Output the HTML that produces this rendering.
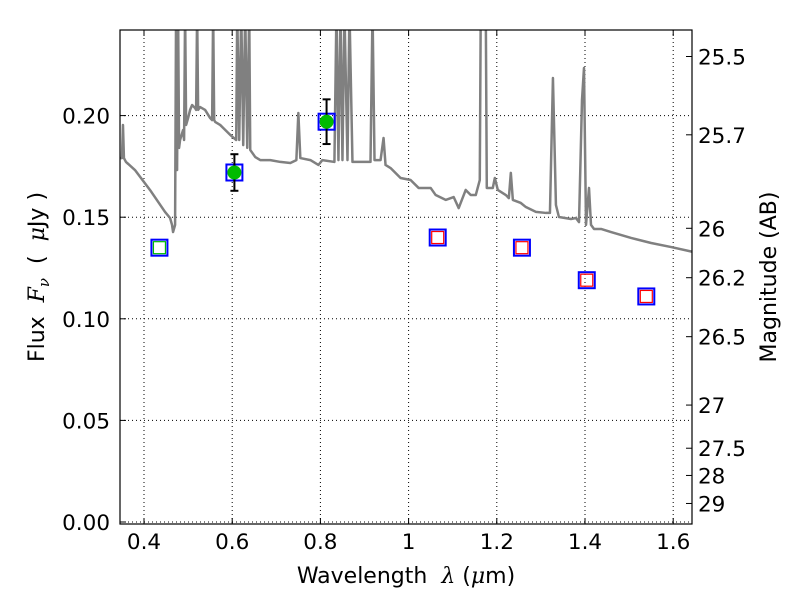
<!DOCTYPE html>
<html><head><meta charset="utf-8"><style>
body{margin:0;background:#fff;}
svg text{font-family:"DejaVu Sans","Liberation Sans",sans-serif;fill:#000;}
</style></head><body>
<svg id="c" width="800" height="600" xmlns="http://www.w3.org/2000/svg"></svg>
<script>
const xTicks=[0.4,0.6,0.8,1.0,1.2,1.4,1.6];
const xTickLabels=["0.4","0.6","0.8","1","1.2","1.4","1.6"];
const yTicks=[0,0.05,0.10,0.15,0.20];
const yTickLabels=["0.00","0.05","0.10","0.15","0.20"];
const magTicks=[25.5,25.7,26,26.2,26.5,27,27.5,28,29];
const specPx=[[120,158],[122,158],[123,125],[124,158],[126,162],[135,170],[150,190],[165,212],[170,218],[172,225],[173,232],[175,225],[176,10],[177,170],[178,10],[179,148],[180,140],[183,130],[184,140],[185,10],[186,125],[188,118],[190,110],[192,105],[195,108],[196,110],[197,10],[198,110],[200,107],[205,110],[210,118],[212,120],[213,10],[214,120],[215,122],[220,125],[230,135],[236,140],[237,10],[239,140],[241,10],[243,145],[245,10],[247,148],[249,10],[250,150],[255,157],[260,160],[270,160],[280,162],[290,163],[296,160],[298,113],[300,158],[310,160],[318,165],[322,160],[334,162],[336,10],[338,160],[340,10],[342,160],[344,10],[347,160],[349,10],[352,162],[356,162],[370,162],[372,10],[374,160],[380,160],[383,138],[385,165],[390,168],[400,178],[410,180],[418,188],[430,188],[435,195],[445,200],[453,197],[458,208],[465,190],[470,195],[475,195],[479,180],[480,10],[485,10],[486,188],[492,188],[494,178],[497,190],[505,195],[508,198],[510,173],[512,200],[520,203],[525,207],[535,212],[545,213],[549,213],[552,78],[555,205],[558,217],[570,219],[575,218],[578,222],[581,100],[583,68],[585,225],[588,188],[590,225],[593,229],[600,229],[610,232],[630,238],[650,243],[670,247],[692,252]];
const specWave=specPx.map(p=>+(0.4+(p[0]-144)/440).toFixed(4));
const specFlux=specPx.map(p=>+((522-p[1])/2032).toFixed(4));
const photWave=[0.435,0.605,0.814,1.066,1.257,1.404,1.539];
const photFlux=[0.135,0.172,0.197,0.140,0.135,0.119,0.111];
const detWave=[0.605,0.814];
const detFlux=[0.172,0.197];
const detErr=[0.009,0.011];
const innerWave=[0.435,1.066,1.257,1.404,1.539];
const innerFlux=[0.135,0.140,0.135,0.119,0.111];
const innerColor=["#00bb00","red","red","red","red"];

const L=120,R=692,T=30,B=524;
const X=v=>144+(v-0.4)*441;
const Y=v=>522-v*2032;
const svg=document.getElementById('c');
const NS="http://www.w3.org/2000/svg";
function mk(t,a,p){const e=document.createElementNS(NS,t);for(const k in a)e.setAttribute(k,a[k]);(p||svg).appendChild(e);return e;}

const defs=mk('defs',{});const cp=mk('clipPath',{id:'clip'},defs);mk('rect',{x:L,y:T,width:R-L,height:B-T},cp);
xTicks.forEach((t,i)=>{
 const g=mk('line',{x1:X(t),x2:X(t),y1:T,y2:B,stroke:'#000','stroke-dasharray':'1,3','stroke-width':1});
 
 mk('line',{x1:X(t),x2:X(t),y1:B,y2:B-6,stroke:'#000'});mk('line',{x1:X(t),x2:X(t),y1:T,y2:T+6,stroke:'#000'});
 const tx=mk('text',{x:X(t),y:B+25,'text-anchor':'middle','font-size':21.5});tx.textContent=xTickLabels[i];
 
});
yTicks.forEach((t,i)=>{
 const g=mk('line',{x1:L,x2:R,y1:Y(t),y2:Y(t),stroke:'#000','stroke-dasharray':'1,3','stroke-width':1});
 
 mk('line',{x1:L,x2:L+6,y1:Y(t),y2:Y(t),stroke:'#000'});
 const tx=mk('text',{x:L-10,y:Y(t)+8,'text-anchor':'end','font-size':21.5});tx.textContent=yTickLabels[i];
 
});
magTicks.forEach(m=>{
 const f=Math.pow(10,(23.9-m)/2.5);const y=Y(f);
 mk('line',{x1:R,x2:R-6,y1:y,y2:y,stroke:'#000'});
 const tx=mk('text',{x:R+6,y:y+8,'font-size':21.5});tx.textContent=String(m);
 
});
const sp=mk('polyline',{points:specWave.map((w,i)=>X(w)+','+Y(specFlux[i])).join(' '),fill:'none',stroke:'#808080','stroke-width':2.5,'clip-path':'url(#clip)','stroke-linejoin':'round'});

photWave.forEach((w,i)=>{
 const r=mk('rect',{x:X(w)-8,y:Y(photFlux[i])-8,width:16,height:16,fill:'none',stroke:'#0000ff','stroke-width':2});
 
});
innerWave.forEach((w,i)=>{
 const r=mk('rect',{x:X(w)-6,y:Y(innerFlux[i])-6,width:12,height:12,fill:'none',stroke:innerColor[i],'stroke-width':1.2});
 
});
detWave.forEach((w,i)=>{
 const x=X(w),y1=Y(detFlux[i]+detErr[i]),y2=Y(detFlux[i]-detErr[i]);
 mk('line',{x1:x,x2:x,y1:y1,y2:y2,stroke:'#000','stroke-width':2});
 mk('line',{x1:x-4,x2:x+4,y1:y1,y2:y1,stroke:'#000','stroke-width':2});
 mk('line',{x1:x-4,x2:x+4,y1:y2,y2:y2,stroke:'#000','stroke-width':2});
 const c=mk('circle',{cx:x,cy:Y(detFlux[i]),r:7,fill:'#00bb00'});
 
});
const fr=mk('rect',{x:L,y:T,width:R-L,height:B-T,fill:'none',stroke:'#000','stroke-width':1.2});

let t=mk('text',{x:406,y:583,'text-anchor':'middle','font-size':22});
t.innerHTML='Wavelength\u00a0\u00a0<tspan font-style="italic" font-family="DejaVu Serif, serif">λ</tspan> (<tspan font-style="italic" font-family="DejaVu Serif, serif">μ</tspan>m)';

t=mk('text',{x:44,y:277,'text-anchor':'middle','font-size':22,transform:'rotate(-90 44 277)'});
t.innerHTML='Flux\u00a0\u00a0<tspan font-style="italic" font-family="DejaVu Serif, serif">F</tspan><tspan font-style="italic" font-size="15" dy="5" font-family="DejaVu Serif, serif">ν</tspan><tspan dy="-5">\u00a0\u00a0(\u00a0\u00a0</tspan><tspan font-style="italic" font-family="DejaVu Serif, serif">μ</tspan>Jy )';

t=mk('text',{x:776,y:277,'text-anchor':'middle','font-size':22,transform:'rotate(-90 776 277)'});
t.textContent='Magnitude (AB)';

</script>
</body></html>
